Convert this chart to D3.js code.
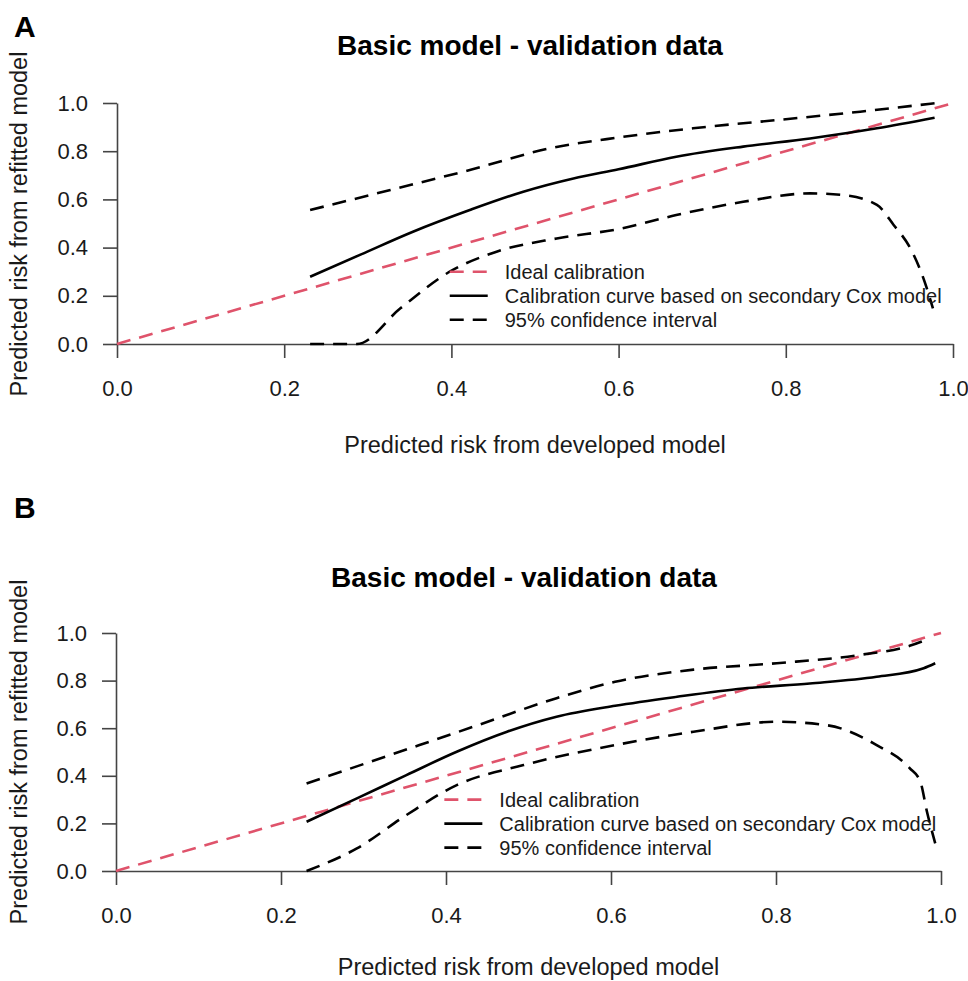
<!DOCTYPE html>
<html>
<head>
<meta charset="utf-8">
<script src="https://cdn.jsdelivr.net/npm/d3@7"></script>
<style>
  body { margin: 0; background: #fff; }
  svg text { font-family: "Liberation Sans", Arial, Helvetica, sans-serif; fill: #1a1a1a; }
</style>
</head>
<body>
<div id="chart"></div>
<script>
// ---------- DATA ----------
var tickValues = [0, 0.2, 0.4, 0.6, 0.8, 1.0]
var tickLabels = ["0.0", "0.2", "0.4", "0.6", "0.8", "1.0"]
var legendLabels = ["Ideal calibration", "Calibration curve based on secondary Cox model", "95% confidence interval"]
var titleText = "Basic model - validation data"
var xTitle = "Predicted risk from developed model"
var yTitle = "Predicted risk from refitted model"

var idealX = [0, 1]
var idealY = [0, 1]

// panel A
var aCurveX = [0.231, 0.292, 0.354, 0.422, 0.486, 0.546, 0.600, 0.669, 0.749, 0.829, 0.909, 0.978]
var aCurveY = [0.279, 0.372, 0.466, 0.556, 0.632, 0.687, 0.725, 0.777, 0.819, 0.853, 0.895, 0.939]
var aUpperX = [0.231, 0.327, 0.422, 0.518, 0.600, 0.689, 0.789, 0.889, 0.978]
var aUpperY = [0.556, 0.639, 0.722, 0.812, 0.857, 0.895, 0.929, 0.964, 0.999]
var aLowerX = [0.231, 0.287, 0.339, 0.398, 0.454, 0.526, 0.600, 0.669, 0.749, 0.829, 0.869, 0.909, 0.929, 0.949, 0.966, 0.976]
var aLowerY = [0, 0, 0.148, 0.300, 0.383, 0.438, 0.477, 0.535, 0.590, 0.625, 0.618, 0.577, 0.494, 0.397, 0.259, 0.148]

// panel B
var bCurveX = [0.231, 0.292, 0.352, 0.413, 0.474, 0.534, 0.605, 0.680, 0.760, 0.841, 0.922, 0.979, 0.993]
var bCurveY = [0.207, 0.305, 0.403, 0.501, 0.585, 0.648, 0.694, 0.732, 0.767, 0.788, 0.816, 0.852, 0.873]
var bUpperX = [0.231, 0.332, 0.433, 0.534, 0.605, 0.700, 0.801, 0.902, 0.962, 0.987]
var bUpperY = [0.368, 0.487, 0.606, 0.726, 0.795, 0.846, 0.873, 0.908, 0.946, 0.978]
var bLowerX = [0.231, 0.292, 0.352, 0.413, 0.494, 0.605, 0.700, 0.801, 0.861, 0.922, 0.962, 0.975, 0.983, 0.993]
var bLowerY = [0, 0.095, 0.235, 0.361, 0.445, 0.529, 0.585, 0.627, 0.613, 0.529, 0.432, 0.375, 0.249, 0.116]

var legendX = 0.398   // left end of legend keys, data units
var legendY = 0.30    // first legend row, data units

// ---------- PAGE ----------
var red = '#DF536B'
var dash = '14,9'

var svg = d3.select('#chart').append('svg')
    .attr('width', 968)
    .attr('height', 981);

function zip(xs, ys) {
    return xs.map(function(x, i) { return [x, ys[i]] })
}

function drawPanel(p) {
    var x = d3.scaleLinear().domain([0, 1]).range([p.left, p.right])
    var y = d3.scaleLinear().domain([0, 1]).range([p.bottom, p.top])
    var g = svg.append('g')

    // panel letter + title
    g.append('text').attr('x', 14).attr('y', p.letterY)
        .style('font-size', '30px').style('font-weight', 'bold').style('fill', '#000')
        .text(p.letter)
    g.append('text').attr('x', p.titleX).attr('y', p.titleY)
        .attr('text-anchor', 'middle')
        .style('font-size', '28px').style('font-weight', 'bold').style('fill', '#000')
        .text(titleText)

    // axes
    var xAxis = d3.axisBottom(x).tickValues(tickValues)
        .tickFormat(function(d, i) { return tickLabels[i] })
        .tickSize(14).tickSizeOuter(0).tickPadding(22)
    var yAxis = d3.axisLeft(y).tickValues(tickValues)
        .tickFormat(function(d, i) { return tickLabels[i] })
        .tickSize(14).tickSizeOuter(0).tickPadding(15)

    var gx = g.append('g').attr('transform', 'translate(0,' + p.bottom + ')').call(xAxis)
    var gy = g.append('g').attr('transform', 'translate(' + p.left + ',0)').call(yAxis)
    ;[gx, gy].forEach(function(a) {
        a.attr('font-family', null).attr('font-size', null)
        a.selectAll('path, line').attr('stroke', '#444').attr('stroke-width', 1.6)
        a.selectAll('text').style('font-size', '22px').attr('fill', '#1a1a1a')
    })

    // axis titles
    g.append('text').attr('x', (p.left + p.right) / 2).attr('y', p.xTitleY)
        .attr('text-anchor', 'middle').style('font-size', '23.5px')
        .text(xTitle)
    g.append('text')
        .attr('transform', 'translate(27,' + p.yTitleY + ') rotate(-90)')
        .attr('text-anchor', 'middle').style('font-size', '23.5px')
        .text(yTitle)

    var line = d3.line()
        .x(function(d) { return x(d[0]) })
        .y(function(d) { return y(d[1]) })
        .curve(d3.curveMonotoneX)

    var series = [
        {pts: zip(idealX, idealY), color: red, dash: dash},
        {pts: zip(p.lowerX, p.lowerY), color: '#000', dash: dash},
        {pts: zip(p.upperX, p.upperY), color: '#000', dash: dash},
        {pts: zip(p.curveX, p.curveY), color: '#000', dash: null}
    ]
    g.selectAll('path.curve')
        .data(series)
        .enter()
        .append('path')
            .attr('class', 'curve')
            .attr('d', function(d) { return line(d.pts) })
            .attr('fill', 'none')
            .attr('stroke', function(d) { return d.color })
            .attr('stroke-width', 2.6)
            .attr('stroke-dasharray', function(d) { return d.dash })

    // legend
    var keys = [
        {color: red, dash: dash},
        {color: '#000', dash: null},
        {color: '#000', dash: dash}
    ]
    var lx = x(legendX)
    var ly = y(legendY)
    var lg = g.selectAll('g.key')
        .data(legendLabels)
        .enter()
        .append('g')
            .attr('class', 'key')
            .attr('transform', function(d, i) { return 'translate(' + lx + ',' + (ly + i * 24) + ')' })
    lg.append('line')
        .attr('x1', 0).attr('x2', 38).attr('y1', 0).attr('y2', 0)
        .attr('stroke', function(d, i) { return keys[i].color })
        .attr('stroke-width', 2.6)
        .attr('stroke-dasharray', function(d, i) { return keys[i].dash })
    lg.append('text')
        .attr('x', 55).attr('dy', '0.35em')
        .style('font-size', '20px')
        .text(function(d) { return d })
}

drawPanel({
    letter: 'A', letterY: 37, titleX: 530, titleY: 55,
    left: 117, right: 953, top: 103, bottom: 344,
    xTitleY: 453, yTitleY: 224,
    curveX: aCurveX, curveY: aCurveY,
    upperX: aUpperX, upperY: aUpperY,
    lowerX: aLowerX, lowerY: aLowerY
})

drawPanel({
    letter: 'B', letterY: 518, titleX: 524, titleY: 587,
    left: 116, right: 941, top: 633, bottom: 871,
    xTitleY: 975, yTitleY: 752,
    curveX: bCurveX, curveY: bCurveY,
    upperX: bUpperX, upperY: bUpperY,
    lowerX: bLowerX, lowerY: bLowerY
})
</script>
</body>
</html>
